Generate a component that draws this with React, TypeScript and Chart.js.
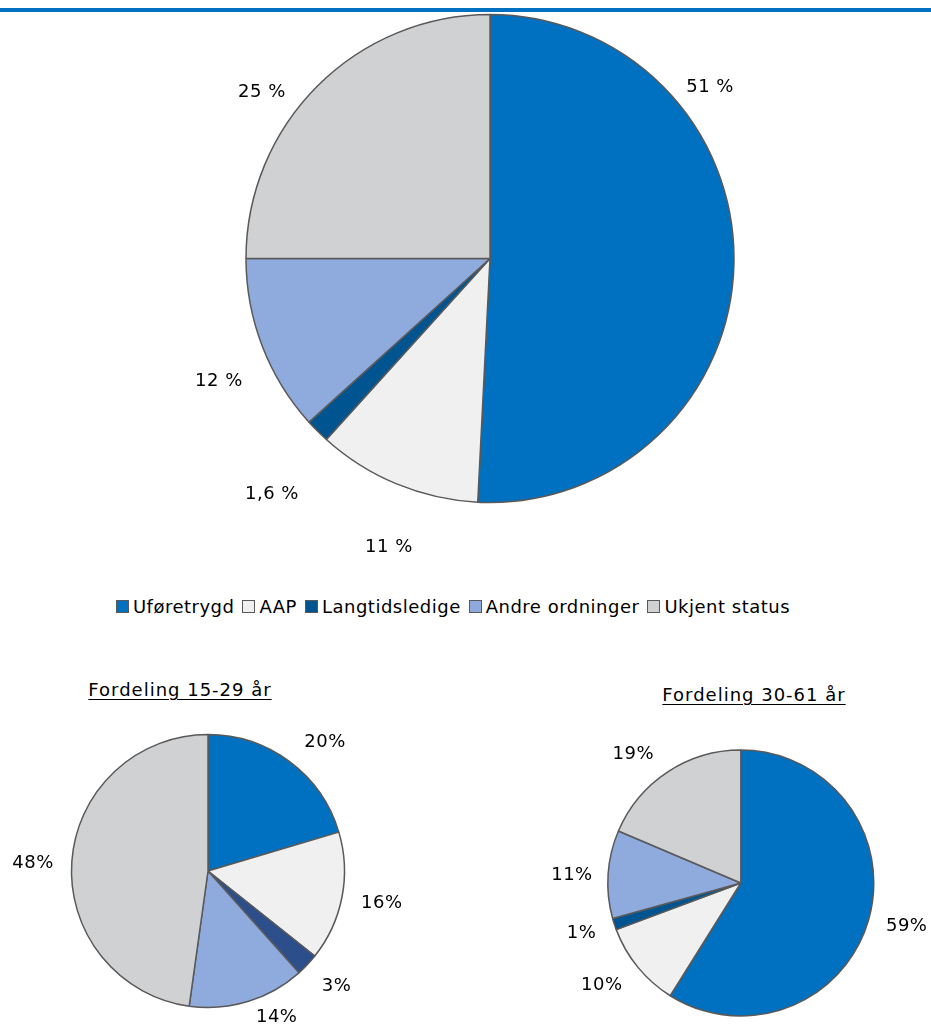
import React, { useEffect, useRef } from "react";
import { Chart, registerables } from "chart.js";

Chart.register(...registerables);

// ---- data ----
const categories = ["Uføretrygd", "AAP", "Langtidsledige", "Andre ordninger", "Ukjent status"];
const totalValues = [50.8, 10.9, 1.6, 11.7, 25.0];
const totalLabels = ["51 %", "11 %", "1,6 %", "12 %", "25 %"];
const youngValues = [20.4, 15.3, 2.7, 13.8, 47.8];
const youngLabels = ["20%", "16%", "3%", "14%", "48%"];
const olderValues = [58.9, 10.4, 1.4, 10.7, 18.6];
const olderLabels = ["59%", "10%", "1%", "11%", "19%"];
const titleYoung = "Fordeling 15-29 år";
const titleOlder = "Fordeling 30-61 år";

// ---- styles ----
const FONT = "'DejaVu Sans', sans-serif";
const colors = ["#0070C0", "#F0F0F0", "#00548F", "#8FAADC", "#D0D1D3"];
const youngColors = ["#0070C0", "#F0F0F0", "#2C4E8A", "#8FAADC", "#D0D1D3"];
const BORDER = "#595959";

// label placement: [angle deg clockwise from top, distance as fraction of radius]
const totalPlace = [[52.1, 1.143], [199.3, 1.253], [222.8, 1.315], [245.7, 1.219], [306.1, 1.157]];
const youngPlace = [[42.2, 1.276], [100.4, 1.294], [132.0, 1.268], [154.8, 1.182], [272.6, 1.283]];
const olderPlace = [[104.8, 1.29], [233.7, 1.297], [252.5, 1.255], [272.7, 1.271], [320.2, 1.262]];

const labelPlugin = {
  id: "outerLabels",
  afterDatasetsDraw(chart: any, _args: any, opts: any) {
    const meta = chart.getDatasetMeta(0);
    const arc = meta.data[0];
    if (!arc) return;
    const { x, y, outerRadius } = arc.getProps(["x", "y", "outerRadius"], true);
    const ctx = chart.ctx;
    ctx.save();
    ctx.font = opts.font;
    try {
      (ctx as any).letterSpacing = "0.5px";
    } catch (e) {}
    ctx.fillStyle = "#000";
    ctx.textAlign = "center";
    ctx.textBaseline = "middle";
    opts.texts.forEach((t: string, i: number) => {
      const [deg, f] = opts.place[i];
      const a = (deg * Math.PI) / 180;
      ctx.fillText(t, x + f * outerRadius * Math.sin(a), y - f * outerRadius * Math.cos(a));
    });
    ctx.restore();
  },
};

type PieProps = {
  values: number[];
  texts: string[];
  place: number[][];
  palette: string[];
  radius: number;
  width: number;
  height: number;
  left: number;
  top: number;
  padding: { left: number; right: number; top: number; bottom: number };
  fontSize: number;
};

function Pie(p: PieProps) {
  const ref = useRef<HTMLCanvasElement>(null);
  useEffect(() => {
    if (!ref.current) return;
    const chart = new Chart(ref.current, {
      type: "pie",
      data: {
        labels: categories,
        datasets: [
          {
            data: p.values,
            backgroundColor: p.palette,
            borderColor: BORDER,
            borderWidth: 1.5,
          },
        ],
      },
      options: {
        responsive: false,
        animation: false,
        radius: p.radius,
        layout: { padding: p.padding },
        plugins: {
          legend: { display: false },
          tooltip: { enabled: false },
          outerLabels: { texts: p.texts, place: p.place, font: `${p.fontSize}px ${FONT}` },
        } as any,
      },
      plugins: [labelPlugin],
    });
    return () => chart.destroy();
  }, []);
  return (
    <canvas
      ref={ref}
      width={p.width}
      height={p.height}
      style={{ position: "absolute", left: p.left, top: p.top, width: p.width, height: p.height }}
    />
  );
}

export default function App() {
  const titleStyle = (cx: number, cy: number): React.CSSProperties => ({
    position: "absolute",
    left: cx - 150,
    width: 300,
    top: cy - 12,
    height: 24,
    lineHeight: "24px",
    textAlign: "center",
    fontFamily: FONT,
    fontSize: 18,
    letterSpacing: "1px",
    color: "#000",
    textDecoration: "underline",
    textUnderlineOffset: 3,
  });
  return (
    <div style={{ position: "absolute", left: 0, top: 0, width: 931, height: 1024, background: "#fff", overflow: "hidden" }}>
      <Pie
        values={totalValues}
        texts={totalLabels}
        place={totalPlace}
        palette={colors}
        radius={244}
        width={931}
        height={580}
        left={0}
        top={0}
        padding={{ left: 49, right: 0, top: 0, bottom: 63 }}
        fontSize={18}
      />
      <div style={{ position: "absolute", left: 0, top: 8, width: 931, height: 4, background: "#0070C0" }} />
      <div
        style={{
          position: "absolute",
          left: 0,
          width: 906,
          top: 594,
          height: 24,
          display: "flex",
          justifyContent: "center",
          alignItems: "center",
          fontFamily: FONT,
          fontSize: 18,
          letterSpacing: "0.5px",
          color: "#000",
          whiteSpace: "nowrap",
        }}
      >
        {categories.map((c, i) => (
          <span key={c} style={{ display: "inline-flex", alignItems: "center", marginRight: i < categories.length - 1 ? 8 : 0 }}>
            <span
              style={{
                display: "inline-block",
                width: 11,
                height: 11,
                background: colors[i],
                border: `1px solid ${BORDER}`,
                marginRight: 4,
              }}
            />
            {c}
          </span>
        ))}
      </div>
      <div style={titleStyle(180, 690)}>{titleYoung}</div>
      <div style={titleStyle(754, 695)}>{titleOlder}</div>
      <Pie
        values={youngValues}
        texts={youngLabels}
        place={youngPlace}
        palette={youngColors}
        radius={136.5}
        width={420}
        height={304}
        left={0}
        top={720}
        padding={{ left: 0, right: 4, top: 0, bottom: 2 }}
        fontSize={18}
      />
      <Pie
        values={olderValues}
        texts={olderLabels}
        place={olderPlace}
        palette={colors}
        radius={133}
        width={451}
        height={304}
        left={480}
        top={720}
        padding={{ left: 70.6, right: 0, top: 22, bottom: 0 }}
        fontSize={18}
      />
    </div>
  );
}
